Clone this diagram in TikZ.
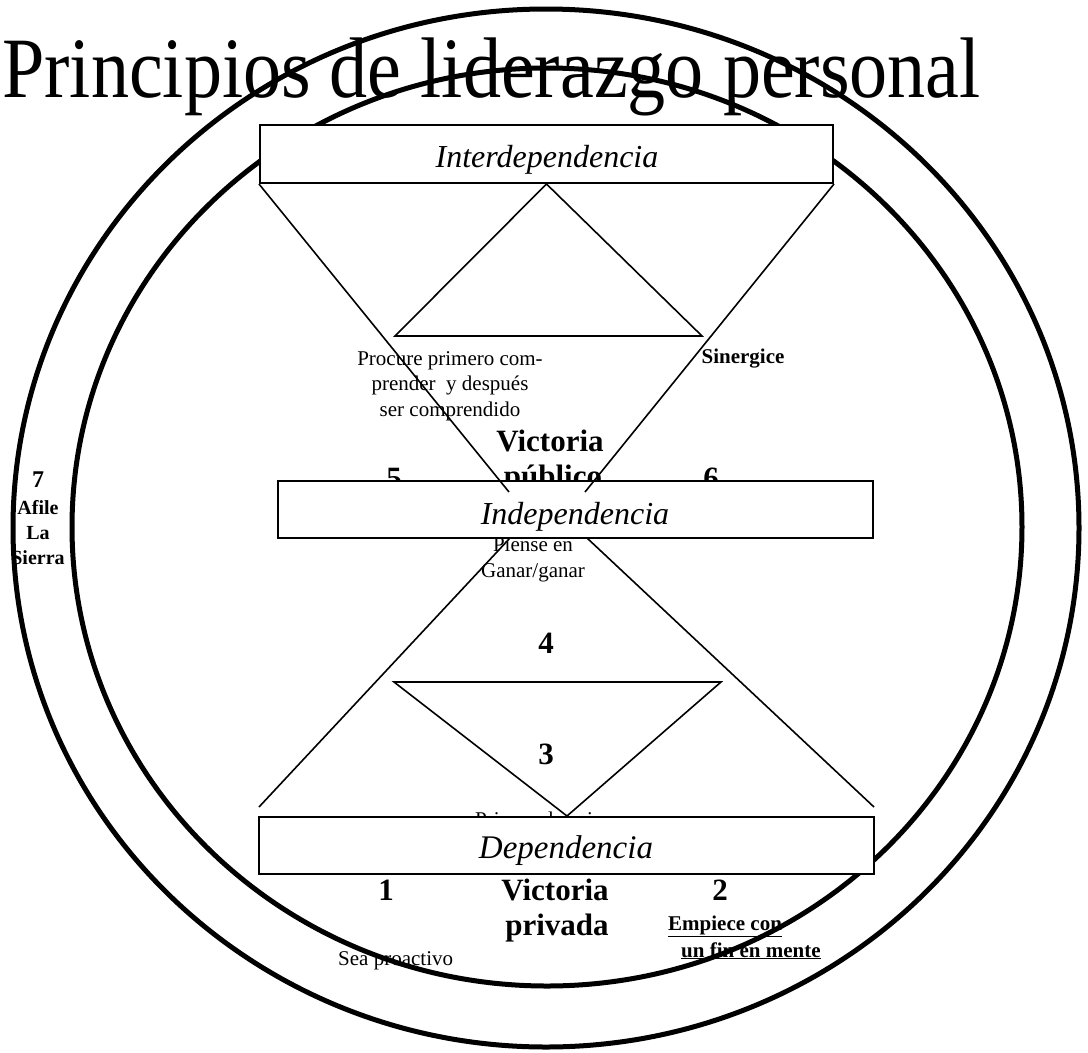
\documentclass[tikz,border=0pt]{standalone}
\usepackage{fontspec}
\setmainfont{Liberation Serif}
\begin{document}
\begin{tikzpicture}[x=1pt,y=-1pt,
  ring/.style={line width=5pt},
  edge/.style={line width=1.6pt},
  stagebox/.style={draw, line width=2pt, fill=white, inner sep=0pt},
  stagetxt/.style={font=\itshape\fontsize{32}{36}\selectfont, inner sep=0pt, anchor=base},
  small/.style={font=\fontsize{21}{25.5}\selectfont, inner sep=0pt, align=center},
  smallb/.style={font=\bfseries\fontsize{21}{25.5}\selectfont, inner sep=0pt, align=center},
  bignum/.style={font=\bfseries\fontsize{31}{35}\selectfont, inner sep=0pt, anchor=base},
  sidetxt/.style={font=\bfseries\fontsize{20}{24}\selectfont, inner sep=0pt, anchor=base},
]
\useasboundingbox (0,0) rectangle (1088,1053);
\fill[white] (0,0) rectangle (1088,1053);

% title
\node[anchor=base west, inner sep=0pt, font=\fontsize{86}{90}\selectfont] (title) at (2,97) {\scalebox{0.885}[1]{Principios de liderazgo personal}};

% texts lying under the rings and boxes
\node[small] (procure) at (450,386) {Procure primero com-\\prender\ \ y después\\ser comprendido};
\node[smallb] (sinergice) at (743,359) {Sinergice};
\node[bignum] (vpub1) at (550,451) {Victoria};
\node[bignum] (vpub2) at (553,486) {público};
\node[bignum] (n5) at (394,488) {5};
\node[bignum] (n6) at (711,488) {6};
\node[small] (piense) at (533,560) {Piense en\\Ganar/ganar};
\node[bignum] (n4) at (546,653) {4};
\node[bignum] (n3) at (546,764) {3};
\node[small, anchor=base west] (primero) at (475,826) {Primero lo primero};
\node[bignum] (n1) at (386,900) {1};
\node[bignum] (vpriv1) at (555,900) {Victoria};
\node[bignum] (vpriv2) at (557,935) {privada};
\node[bignum] (n2) at (720,900) {2};
\node[smallb, anchor=base west] (empiece1) at (668,930) {\underline{Empiece con}};
\node[smallb, anchor=base west] (empiece2) at (681,957) {\underline{un fin en mente}};
\node[small, anchor=base west] (sea) at (338,965) {Sea proactivo};
\node[font=\bfseries\fontsize{24}{26}\selectfont, inner sep=0pt, anchor=base] (n7) at (38,487) {7};
\node[sidetxt] (afile) at (38,514) {Afile};
\node[sidetxt] (la) at (38,539) {La};
\node[sidetxt] (sierra) at (38,564) {Sierra};

% rings
\draw[ring] (546,528) ellipse [x radius=533, y radius=519];
\draw[ring] (547,527) ellipse [x radius=475, y radius=459];

% lower figure lines
\coordinate (lA) at (510,538);
\coordinate (lB) at (259,807);
\coordinate (rA) at (587,538);
\coordinate (rB) at (874,807);
\draw[edge] (lA) -- (lB);
\draw[edge] (rA) -- (rB);
\coordinate (t3a) at (394,682);
\coordinate (t3b) at (721,682);
\coordinate (t3c) at (567,816);
\draw[edge, line join=miter] (t3a) -- (t3b) -- (t3c) -- cycle;

% boxes
\node[stagebox, minimum width=573, minimum height=58] (inter) at (546.5,154) {};
\node[stagetxt] (intert) at (547,167) {Interdependencia};
\node[stagebox, minimum width=595, minimum height=57] (indep) at (575.5,509.5) {};
\node[stagetxt] (indept) at (575,524) {Independencia};
\node[stagebox, minimum width=615, minimum height=57] (dep) at (566.5,845.5) {};
\node[stagetxt, font=\itshape\fontsize{33}{36}\selectfont] (dept) at (566,858) {Dependencia};

% upper figure lines
\coordinate (vL) at (509,492);
\coordinate (vR) at (585,492);
\draw[edge] (inter.south west) -- (vL);
\draw[edge] (inter.south east) -- (vR);
\coordinate (t1b) at (395,336);
\coordinate (t1c) at (702,336);
\draw[edge, line join=miter] (inter.south) -- (t1b) -- (t1c) -- cycle;
\end{tikzpicture}
\end{document}
